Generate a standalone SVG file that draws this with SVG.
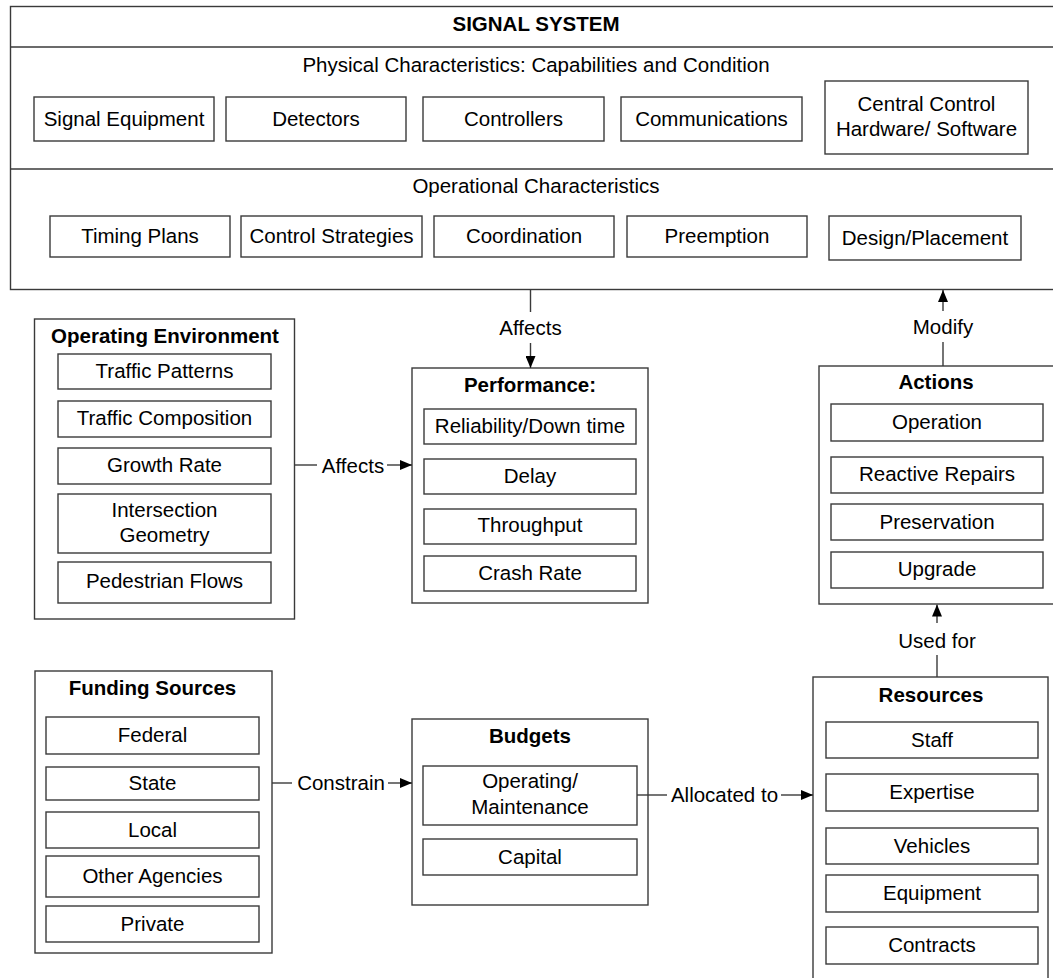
<svg xmlns="http://www.w3.org/2000/svg" width="1053" height="978" viewBox="0 0 1053 978">
<style>
  .box { fill: #ffffff; stroke: #3a3a3a; stroke-width: 1.4; }
  .ln { fill: none; stroke: #3a3a3a; stroke-width: 1.4; }
  text { font-family: "Liberation Sans", Arial, sans-serif; font-size: 20.5px; fill: #000; text-anchor: middle; }
  .b { font-weight: bold; }
</style>
<defs>
  <marker id="arr" viewBox="0 0 12 10" refX="12" refY="5" markerWidth="12" markerHeight="10" markerUnits="userSpaceOnUse" orient="auto">
    <path d="M0,0 L12,5 L0,10 z" fill="#000"/>
  </marker>
</defs>
<rect width="1053" height="978" fill="#ffffff"/>

<g id="signal-system">
  <rect class="box" x="10.5" y="6.5" width="1060" height="283"/>
  <line class="ln" x1="10.5" y1="47" x2="1060" y2="47"/>
  <line class="ln" x1="10.5" y1="169" x2="1060" y2="169"/>
  <text class="b" x="536" y="31">SIGNAL SYSTEM</text>
  <text x="536" y="72">Physical Characteristics: Capabilities and Condition</text>
  <text x="536" y="193">Operational Characteristics</text>
</g>
<g id="signal-equipment"><rect class="box" x="34" y="97" width="180" height="44"/><text x="124" y="126">Signal Equipment</text></g>
<g id="detectors"><rect class="box" x="226" y="97" width="180" height="44"/><text x="316" y="126">Detectors</text></g>
<g id="controllers"><rect class="box" x="423" y="97" width="181" height="44"/><text x="513.5" y="126">Controllers</text></g>
<g id="communications"><rect class="box" x="621" y="97" width="181" height="44"/><text x="711.5" y="126">Communications</text></g>
<g id="central-control"><rect class="box" x="825" y="81" width="203" height="73"/><text x="926.5" y="111">Central Control</text><text x="926.5" y="136">Hardware/ Software</text></g>

<g id="timing-plans"><rect class="box" x="50" y="216" width="180" height="41"/><text x="140" y="243">Timing Plans</text></g>
<g id="control-strategies"><rect class="box" x="241" y="216" width="181" height="41"/><text x="331.5" y="243">Control Strategies</text></g>
<g id="coordination"><rect class="box" x="434" y="216" width="180" height="41"/><text x="524" y="243">Coordination</text></g>
<g id="preemption"><rect class="box" x="627" y="216" width="180" height="41"/><text x="717" y="243">Preemption</text></g>
<g id="design-placement"><rect class="box" x="829" y="216" width="192" height="44"/><text x="925" y="245">Design/Placement</text></g>

<g id="operating-environment">
  <rect class="box" x="34.5" y="319" width="260" height="300"/>
  <text class="b" x="165" y="343">Operating Environment</text>
  <rect class="box" x="58" y="354" width="213" height="35"/><text x="164.5" y="378">Traffic Patterns</text>
  <rect class="box" x="58" y="401" width="213" height="36"/><text x="164.5" y="425">Traffic Composition</text>
  <rect class="box" x="58" y="448" width="213" height="36"/><text x="164.5" y="472">Growth Rate</text>
  <rect class="box" x="58" y="494" width="213" height="59"/><text x="164.5" y="517">Intersection</text><text x="164.5" y="542">Geometry</text>
  <rect class="box" x="58" y="562" width="213" height="41"/><text x="164.5" y="588">Pedestrian Flows</text>
</g>

<g id="performance">
  <rect class="box" x="412" y="368" width="236" height="235"/>
  <text class="b" x="530" y="392">Performance:</text>
  <rect class="box" x="424" y="409" width="212" height="35"/><text x="530" y="433">Reliability/Down time</text>
  <rect class="box" x="424" y="459" width="212" height="35"/><text x="530" y="483">Delay</text>
  <rect class="box" x="424" y="509" width="212" height="35"/><text x="530" y="532">Throughput</text>
  <rect class="box" x="424" y="556" width="212" height="35"/><text x="530" y="580">Crash Rate</text>
</g>

<g id="actions">
  <rect class="box" x="819" y="366" width="250" height="238"/>
  <text class="b" x="936" y="389">Actions</text>
  <rect class="box" x="831" y="404" width="212" height="37"/><text x="937" y="429">Operation</text>
  <rect class="box" x="831" y="457" width="212" height="36"/><text x="937" y="481">Reactive Repairs</text>
  <rect class="box" x="831" y="504" width="212" height="36"/><text x="937" y="529">Preservation</text>
  <rect class="box" x="831" y="552" width="212" height="36"/><text x="937" y="576">Upgrade</text>
</g>

<g id="funding-sources">
  <rect class="box" x="35" y="671" width="237" height="282"/>
  <text class="b" x="152.5" y="695">Funding Sources</text>
  <rect class="box" x="46" y="717" width="213" height="37"/><text x="152.5" y="742">Federal</text>
  <rect class="box" x="46" y="767" width="213" height="33"/><text x="152.5" y="790">State</text>
  <rect class="box" x="46" y="812" width="213" height="36"/><text x="152.5" y="837">Local</text>
  <rect class="box" x="46" y="856" width="213" height="41"/><text x="152.5" y="883">Other Agencies</text>
  <rect class="box" x="46" y="906" width="213" height="36"/><text x="152.5" y="931">Private</text>
</g>

<g id="budgets">
  <rect class="box" x="412" y="719" width="236" height="186"/>
  <text class="b" x="530" y="743">Budgets</text>
  <rect class="box" x="423" y="766" width="214" height="59"/><text x="530" y="788">Operating/</text><text x="530" y="814">Maintenance</text>
  <rect class="box" x="423" y="839" width="214" height="36"/><text x="530" y="864">Capital</text>
</g>

<g id="resources">
  <rect class="box" x="813" y="677" width="235" height="320"/>
  <text class="b" x="931" y="702">Resources</text>
  <rect class="box" x="826" y="722" width="212" height="36"/><text x="932" y="747">Staff</text>
  <rect class="box" x="826" y="774" width="212" height="37"/><text x="932" y="799">Expertise</text>
  <rect class="box" x="826" y="828" width="212" height="36"/><text x="932" y="853">Vehicles</text>
  <rect class="box" x="826" y="875" width="212" height="37"/><text x="932" y="900">Equipment</text>
  <rect class="box" x="826" y="927" width="212" height="37"/><text x="932" y="952">Contracts</text>
</g>

<g id="connectors">
  <!-- Signal system affects performance -->
  <line class="ln" x1="530.5" y1="289.5" x2="530.5" y2="312"/>
  <text x="530.5" y="335">Affects</text>
  <line class="ln" x1="530.5" y1="343" x2="530.5" y2="368" marker-end="url(#arr)"/>
  <!-- Operating environment affects performance -->
  <line class="ln" x1="294.5" y1="465" x2="317" y2="465"/>
  <text x="353" y="473">Affects</text>
  <line class="ln" x1="387" y1="465" x2="412" y2="465" marker-end="url(#arr)"/>
  <!-- Actions modify signal system -->
  <line class="ln" x1="943" y1="366" x2="943" y2="342"/>
  <text x="943" y="334">Modify</text>
  <line class="ln" x1="943" y1="311" x2="943" y2="290" marker-end="url(#arr)"/>
  <!-- Resources used for actions -->
  <line class="ln" x1="937" y1="677" x2="937" y2="655"/>
  <text x="937" y="648">Used for</text>
  <line class="ln" x1="937" y1="623" x2="937" y2="604.5" marker-end="url(#arr)"/>
  <!-- Funding constrains budgets -->
  <line class="ln" x1="272" y1="783" x2="292" y2="783"/>
  <text x="341" y="790">Constrain</text>
  <line class="ln" x1="388" y1="783" x2="412" y2="783" marker-end="url(#arr)"/>
  <!-- Budgets allocated to resources -->
  <line class="ln" x1="637" y1="795" x2="667" y2="795"/>
  <text x="724.5" y="802">Allocated to</text>
  <line class="ln" x1="781" y1="795" x2="813" y2="795" marker-end="url(#arr)"/>
</g>
</svg>
